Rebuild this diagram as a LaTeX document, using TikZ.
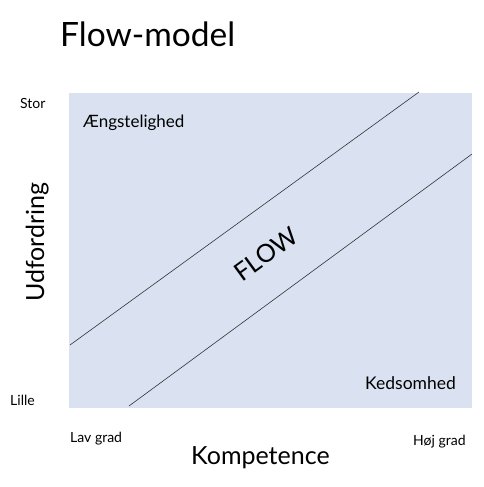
\documentclass[tikz,border=0pt]{standalone}
\usepackage{fontspec}
\setmainfont{Lato}
\definecolor{zone}{RGB}{218,226,242}
\begin{document}
\begin{tikzpicture}[x=1pt,y=-1pt,
  lbl/.style={inner sep=0pt,anchor=base west,font=\fontsize{14}{16}\selectfont},
  mid/.style={inner sep=0pt,anchor=base west,font=\fontsize{17}{20}\selectfont},
  big/.style={inner sep=0pt,font=\fontsize{25}{28}\selectfont},
  bound/.style={draw=black!80,line width=0.6pt}]
\useasboundingbox (0,0) rectangle (484,487);
\fill[zone] (69,93) rectangle (472,408);
\coordinate (u1) at (70,345);
\coordinate (u2) at (419,92);
\coordinate (l1) at (129,406);
\coordinate (l2) at (472,154);
\draw[bound] (u1) -- (u2);
\draw[bound] (l1) -- (l2);
\node[inner sep=0pt,anchor=base west,font=\fontsize{33.5}{36}\selectfont] (title) at (60,47) {Flow-model};
\node[lbl] (stor) at (20,108) {Stor};
\node[lbl] (lille) at (10,405) {Lille};
\node[lbl] (lav) at (70,442) {Lav grad};
\node[lbl] (hoj) at (413,445) {Høj grad};
\node[mid] (aeng) at (83,127) {Ængstelighed};
\node[mid,font=\fontsize{17.5}{20}\selectfont] (keds) at (365,389) {Kedsomhed};
\node[big,anchor=base west] (komp) at (191,464) {Kompetence};
\node[big,anchor=base west,rotate=90] (udf) at (44,302) {Udfordring};
\node[big,rotate=36] (flow) at (266,254) {FLOW};
\end{tikzpicture}
\end{document}
